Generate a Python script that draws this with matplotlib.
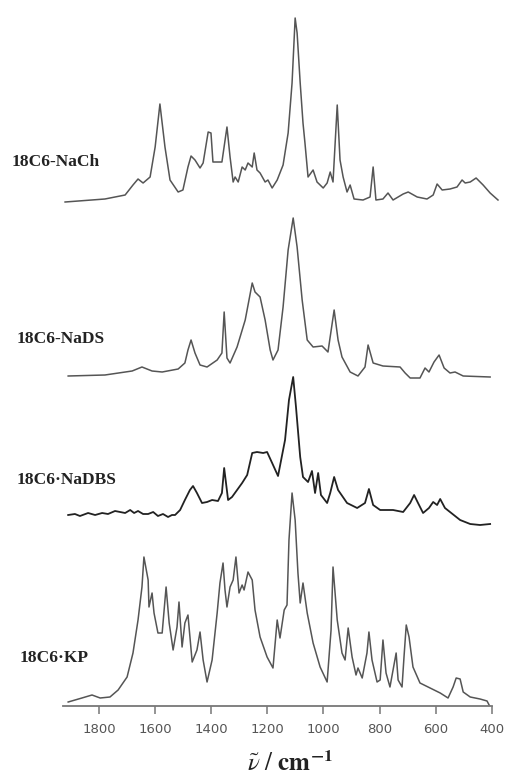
import matplotlib
matplotlib.use("Agg")
import matplotlib.pyplot as plt

# wavenumbers (cm-1) and intensities (arb. units)
nach_wn = [1921, 1779, 1707, 1679, 1661, 1643, 1618, 1600, 1583, 1565, 1547, 1518,
           1501, 1483, 1472, 1458, 1440, 1429, 1411, 1401, 1394, 1362, 1344, 1333,
           1322, 1315, 1304, 1290, 1279, 1269, 1254, 1247, 1237, 1226, 1208, 1198,
           1183, 1165, 1144, 1126, 1112, 1101, 1094, 1083, 1073, 1066, 1055, 1037,
           1023, 1001, 987, 976, 966, 951, 941, 930, 916, 905, 891, 859, 834, 823,
           813, 788, 770, 752, 716, 698, 666, 631, 609, 595, 577, 549, 524, 506,
           495, 477, 456, 431, 406, 378]
nach_int = [0, 3, 7, 17, 23, 19, 25, 55, 98, 55, 22, 10,
            12, 35, 46, 42, 34, 39, 70, 69, 40, 40, 75, 45,
            20, 25, 20, 35, 32, 39, 35, 49, 32, 29, 20, 22,
            14, 22, 37, 69, 119, 184, 169, 119, 79, 59, 25, 32,
            20, 14, 19, 30, 20, 97, 42, 25, 10, 17, 3, 2, 5, 35,
            2, 3, 9, 2, 8, 10, 5, 3, 7, 18, 12, 13, 15, 22,
            19, 20, 24, 17, 9, 2]

nads_wn = [1910, 1779, 1682, 1647, 1611, 1575, 1518, 1494, 1483, 1472, 1458, 1440,
           1415, 1379, 1362, 1354, 1344, 1333, 1308, 1279, 1254, 1244, 1226, 1208,
           1190, 1180, 1162, 1144, 1126, 1108, 1094, 1076, 1058, 1037, 1005, 984,
           962, 948, 934, 905, 877, 852, 841, 823, 788, 727, 709, 691, 656, 638,
           624, 606, 588, 570, 549, 531, 502, 406]
nads_int = [0, 1, 5, 9, 5, 4, 7, 13, 26, 36, 23, 11,
            9, 16, 23, 64, 18, 13, 29, 56, 93, 84, 79, 56,
            26, 16, 26, 69, 126, 158, 129, 76, 36, 29, 30, 24,
            66, 36, 19, 4, 0, 9, 31, 13, 10, 9, 3, -2, -2, 8,
            4, 14, 21, 8, 3, 4, 0, -1]

nadbs_wn = [1910, 1886, 1868, 1839, 1814, 1789, 1768, 1743, 1725, 1707, 1689, 1675,
            1661, 1643, 1625, 1607, 1590, 1572, 1554, 1540, 1529, 1511, 1494, 1476,
            1465, 1451, 1433, 1415, 1397, 1376, 1362, 1354, 1340, 1326, 1290, 1272,
            1254, 1237, 1215, 1201, 1183, 1162, 1137, 1123, 1108, 1098, 1083, 1073,
            1055, 1041, 1030, 1019, 1009, 987, 976, 962, 948, 916, 880, 852, 838,
            823, 798, 752, 716, 691, 677, 663, 645, 624, 609, 595, 584, 567, 549,
            513, 477, 442, 406]
nadbs_int = [0, 1, -1, 2, 0, 2, 1, 4, 3, 2, 5, 2,
             4, 1, 1, 3, -1, 1, -2, 0, 0, 5, 15, 25,
             29, 22, 12, 13, 15, 14, 22, 47, 15, 18, 32, 40,
             62, 63, 62, 63, 52, 39, 75, 115, 138, 108, 58, 38,
             33, 44, 22, 42, 20, 12, 22, 38, 25, 12, 7, 12, 26,
             10, 5, 5, 3, 12, 20, 12, 2, 7, 13, 10, 16, 7, 3,
             -5, -9, -10, -9]

kp_wn = [1910, 1861, 1825, 1796, 1761, 1732, 1700, 1679, 1661, 1647, 1640, 1625,
         1622, 1611, 1604, 1590, 1575, 1561, 1550, 1536, 1522, 1515, 1504, 1494,
         1483, 1468, 1451, 1440, 1429, 1415, 1397, 1379, 1369, 1358, 1351, 1344,
         1333, 1322, 1312, 1301, 1290, 1283, 1269, 1254, 1244, 1226, 1201, 1180,
         1165, 1155, 1140, 1130, 1123, 1112, 1101, 1091, 1083, 1073, 1058, 1037,
         1012, 987, 973, 966, 951, 934, 923, 912, 898, 884, 877, 862, 845, 838,
         827, 809, 798, 788, 777, 763, 752, 741, 734, 720, 713, 705, 695, 681,
         656, 620, 584, 556, 538, 527, 513, 502, 477, 442, 417, 406]
kp_int = [0, 4, 7, 4, 5, 12, 25, 49, 82, 115, 145, 122,
          95, 109, 89, 69, 69, 115, 79, 52, 75, 100, 55, 79,
          87, 40, 52, 70, 42, 20, 42, 89, 119, 139, 112, 95,
          115, 122, 145, 109, 117, 112, 130, 122, 92, 65, 45, 34,
          82, 64, 92, 97, 162, 209, 182, 129, 99, 119, 89, 59,
          35, 20, 72, 135, 82, 49, 42, 74, 45, 27, 34, 24, 49, 70,
          42, 20, 22, 62, 29, 15, 32, 49, 22, 15, 45, 77, 65, 35,
          19, 14, 9, 4, 15, 24, 23, 10, 5, 3, 1, -5]

labels = ["18C6-NaCh", "18C6-NaDS", "18C6·NaDBS", "18C6·KP"]
ticks = [1800, 1600, 1400, 1200, 1000, 800, 600, 400]

W, H = 505, 781
fig = plt.figure(figsize=(W / 100, H / 100), dpi=100)
ax = fig.add_axes([0, (H - 706) / H, 1, 706 / H])

offsets = [504, 330, 191, 4]
colors = ["#555555", "#555555", "#222222", "#555555"]
widths = [1.1, 1.1, 1.3, 1.1]
series = [(nach_wn, nach_int), (nads_wn, nads_int), (nadbs_wn, nadbs_int), (kp_wn, kp_int)]
for (wn, inten), off, c, lw in zip(series, offsets, colors, widths):
    ax.plot(wn, [v + off for v in inten], color=c, lw=lw, solid_joinstyle="round")

ax.set_xlim(2153, 353)
ax.set_ylim(0, 706)
for s in ["left", "right", "top"]:
    ax.spines[s].set_visible(False)
ax.spines["bottom"].set_bounds(1928, 400)
ax.spines["bottom"].set_color("#777777")
ax.spines["bottom"].set_linewidth(1.3)
ax.set_yticks([])
ax.set_xticks(ticks)
ax.tick_params(axis="x", direction="out", length=6, width=1.1, color="#777777",
               labelsize=9.5, labelcolor="#555555", pad=6)

# sample labels, positioned in figure pixels
label_pos = [(12, 162), (17, 339), (17, 480), (20, 658)]
for lab, (px, py) in zip(labels, label_pos):
    fig.text(px / W, 1 - py / H, lab, ha="left", va="center",
             family="Liberation Serif", weight="bold", fontsize=12.5, color="#222222")

plt.rcParams["mathtext.fontset"] = "stix"
fig.text(290 / W, 1 - 764 / H, r"$\tilde{\nu}\ /\ \mathbf{cm}^{\mathbf{-1}}$",
         ha="center", va="center", fontsize=18, color="#222222")

fig.savefig("out.png", dpi=100)
plt.close(fig)
